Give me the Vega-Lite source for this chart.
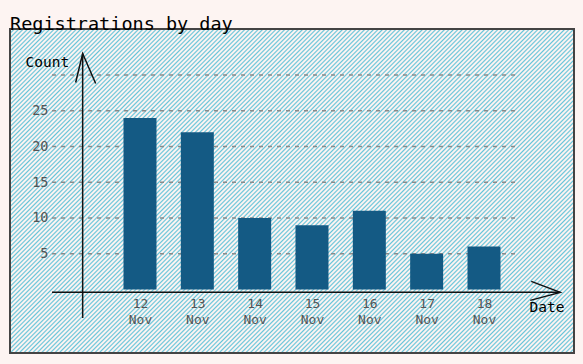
{
  "$schema": "https://vega.github.io/schema/vega-lite/v6.json",
  "width": 564,
  "height": 324,
  "autosize": {"type": "none"},
  "padding": {"left": 10, "top": 29, "right": 9, "bottom": 11},
  "background": "#fdf4f2",
  "title": {"text": "Registrations by day", "anchor": "start", "frame": "group", "font": "DejaVu Sans Mono", "fontSize": 18.5, "fontWeight": "normal", "color": "#000000", "baseline": "alphabetic", "offset": 0, "dy": 19},
  "resolve": {"axis": {"x": "independent", "y": "independent"}},
  "config": {
    "font": "DejaVu Sans Mono",
    "view": {
      "stroke": "#444444",
      "strokeWidth": 2,
      "fill": {
        "gradient": "linear", "x1": 0, "y1": 0, "x2": 1.184, "y2": 0.68,
        "stops": [
{"offset":0,"color":"#66c4d9"},{"offset":0.0018,"color":"#fdf4f2"},{"offset":0.0032,"color":"#fdf4f2"},{"offset":0.005,"color":"#66c4d9"},{"offset":0.0068,"color":"#fdf4f2"},{"offset":0.0082,"color":"#fdf4f2"},
{"offset":0.01,"color":"#66c4d9"},{"offset":0.0118,"color":"#fdf4f2"},{"offset":0.0132,"color":"#fdf4f2"},{"offset":0.015,"color":"#66c4d9"},{"offset":0.0168,"color":"#fdf4f2"},{"offset":0.0182,"color":"#fdf4f2"},
{"offset":0.02,"color":"#66c4d9"},{"offset":0.0218,"color":"#fdf4f2"},{"offset":0.0232,"color":"#fdf4f2"},{"offset":0.025,"color":"#66c4d9"},{"offset":0.0268,"color":"#fdf4f2"},{"offset":0.0282,"color":"#fdf4f2"},
{"offset":0.03,"color":"#66c4d9"},{"offset":0.0318,"color":"#fdf4f2"},{"offset":0.0332,"color":"#fdf4f2"},{"offset":0.035,"color":"#66c4d9"},{"offset":0.0368,"color":"#fdf4f2"},{"offset":0.0382,"color":"#fdf4f2"},
{"offset":0.04,"color":"#66c4d9"},{"offset":0.0418,"color":"#fdf4f2"},{"offset":0.0432,"color":"#fdf4f2"},{"offset":0.045,"color":"#66c4d9"},{"offset":0.0468,"color":"#fdf4f2"},{"offset":0.0482,"color":"#fdf4f2"},
{"offset":0.05,"color":"#66c4d9"},{"offset":0.0518,"color":"#fdf4f2"},{"offset":0.0532,"color":"#fdf4f2"},{"offset":0.055,"color":"#66c4d9"},{"offset":0.0568,"color":"#fdf4f2"},{"offset":0.0582,"color":"#fdf4f2"},
{"offset":0.06,"color":"#66c4d9"},{"offset":0.0618,"color":"#fdf4f2"},{"offset":0.0632,"color":"#fdf4f2"},{"offset":0.065,"color":"#66c4d9"},{"offset":0.0668,"color":"#fdf4f2"},{"offset":0.0682,"color":"#fdf4f2"},
{"offset":0.07,"color":"#66c4d9"},{"offset":0.0718,"color":"#fdf4f2"},{"offset":0.0732,"color":"#fdf4f2"},{"offset":0.075,"color":"#66c4d9"},{"offset":0.0768,"color":"#fdf4f2"},{"offset":0.0782,"color":"#fdf4f2"},
{"offset":0.08,"color":"#66c4d9"},{"offset":0.0818,"color":"#fdf4f2"},{"offset":0.0832,"color":"#fdf4f2"},{"offset":0.085,"color":"#66c4d9"},{"offset":0.0868,"color":"#fdf4f2"},{"offset":0.0882,"color":"#fdf4f2"},
{"offset":0.09,"color":"#66c4d9"},{"offset":0.0918,"color":"#fdf4f2"},{"offset":0.0932,"color":"#fdf4f2"},{"offset":0.095,"color":"#66c4d9"},{"offset":0.0968,"color":"#fdf4f2"},{"offset":0.0982,"color":"#fdf4f2"},
{"offset":0.10,"color":"#66c4d9"},{"offset":0.1018,"color":"#fdf4f2"},{"offset":0.1032,"color":"#fdf4f2"},{"offset":0.105,"color":"#66c4d9"},{"offset":0.1068,"color":"#fdf4f2"},{"offset":0.1082,"color":"#fdf4f2"},
{"offset":0.11,"color":"#66c4d9"},{"offset":0.1118,"color":"#fdf4f2"},{"offset":0.1132,"color":"#fdf4f2"},{"offset":0.115,"color":"#66c4d9"},{"offset":0.1168,"color":"#fdf4f2"},{"offset":0.1182,"color":"#fdf4f2"},
{"offset":0.12,"color":"#66c4d9"},{"offset":0.1218,"color":"#fdf4f2"},{"offset":0.1232,"color":"#fdf4f2"},{"offset":0.125,"color":"#66c4d9"},{"offset":0.1268,"color":"#fdf4f2"},{"offset":0.1282,"color":"#fdf4f2"},
{"offset":0.13,"color":"#66c4d9"},{"offset":0.1318,"color":"#fdf4f2"},{"offset":0.1332,"color":"#fdf4f2"},{"offset":0.135,"color":"#66c4d9"},{"offset":0.1368,"color":"#fdf4f2"},{"offset":0.1382,"color":"#fdf4f2"},
{"offset":0.14,"color":"#66c4d9"},{"offset":0.1418,"color":"#fdf4f2"},{"offset":0.1432,"color":"#fdf4f2"},{"offset":0.145,"color":"#66c4d9"},{"offset":0.1468,"color":"#fdf4f2"},{"offset":0.1482,"color":"#fdf4f2"},
{"offset":0.15,"color":"#66c4d9"},{"offset":0.1518,"color":"#fdf4f2"},{"offset":0.1532,"color":"#fdf4f2"},{"offset":0.155,"color":"#66c4d9"},{"offset":0.1568,"color":"#fdf4f2"},{"offset":0.1582,"color":"#fdf4f2"},
{"offset":0.16,"color":"#66c4d9"},{"offset":0.1618,"color":"#fdf4f2"},{"offset":0.1632,"color":"#fdf4f2"},{"offset":0.165,"color":"#66c4d9"},{"offset":0.1668,"color":"#fdf4f2"},{"offset":0.1682,"color":"#fdf4f2"},
{"offset":0.17,"color":"#66c4d9"},{"offset":0.1718,"color":"#fdf4f2"},{"offset":0.1732,"color":"#fdf4f2"},{"offset":0.175,"color":"#66c4d9"},{"offset":0.1768,"color":"#fdf4f2"},{"offset":0.1782,"color":"#fdf4f2"},
{"offset":0.18,"color":"#66c4d9"},{"offset":0.1818,"color":"#fdf4f2"},{"offset":0.1832,"color":"#fdf4f2"},{"offset":0.185,"color":"#66c4d9"},{"offset":0.1868,"color":"#fdf4f2"},{"offset":0.1882,"color":"#fdf4f2"},
{"offset":0.19,"color":"#66c4d9"},{"offset":0.1918,"color":"#fdf4f2"},{"offset":0.1932,"color":"#fdf4f2"},{"offset":0.195,"color":"#66c4d9"},{"offset":0.1968,"color":"#fdf4f2"},{"offset":0.1982,"color":"#fdf4f2"},
{"offset":0.20,"color":"#66c4d9"},{"offset":0.2018,"color":"#fdf4f2"},{"offset":0.2032,"color":"#fdf4f2"},{"offset":0.205,"color":"#66c4d9"},{"offset":0.2068,"color":"#fdf4f2"},{"offset":0.2082,"color":"#fdf4f2"},
{"offset":0.21,"color":"#66c4d9"},{"offset":0.2118,"color":"#fdf4f2"},{"offset":0.2132,"color":"#fdf4f2"},{"offset":0.215,"color":"#66c4d9"},{"offset":0.2168,"color":"#fdf4f2"},{"offset":0.2182,"color":"#fdf4f2"},
{"offset":0.22,"color":"#66c4d9"},{"offset":0.2218,"color":"#fdf4f2"},{"offset":0.2232,"color":"#fdf4f2"},{"offset":0.225,"color":"#66c4d9"},{"offset":0.2268,"color":"#fdf4f2"},{"offset":0.2282,"color":"#fdf4f2"},
{"offset":0.23,"color":"#66c4d9"},{"offset":0.2318,"color":"#fdf4f2"},{"offset":0.2332,"color":"#fdf4f2"},{"offset":0.235,"color":"#66c4d9"},{"offset":0.2368,"color":"#fdf4f2"},{"offset":0.2382,"color":"#fdf4f2"},
{"offset":0.24,"color":"#66c4d9"},{"offset":0.2418,"color":"#fdf4f2"},{"offset":0.2432,"color":"#fdf4f2"},{"offset":0.245,"color":"#66c4d9"},{"offset":0.2468,"color":"#fdf4f2"},{"offset":0.2482,"color":"#fdf4f2"},
{"offset":0.25,"color":"#66c4d9"},{"offset":0.2518,"color":"#fdf4f2"},{"offset":0.2532,"color":"#fdf4f2"},{"offset":0.255,"color":"#66c4d9"},{"offset":0.2568,"color":"#fdf4f2"},{"offset":0.2582,"color":"#fdf4f2"},
{"offset":0.26,"color":"#66c4d9"},{"offset":0.2618,"color":"#fdf4f2"},{"offset":0.2632,"color":"#fdf4f2"},{"offset":0.265,"color":"#66c4d9"},{"offset":0.2668,"color":"#fdf4f2"},{"offset":0.2682,"color":"#fdf4f2"},
{"offset":0.27,"color":"#66c4d9"},{"offset":0.2718,"color":"#fdf4f2"},{"offset":0.2732,"color":"#fdf4f2"},{"offset":0.275,"color":"#66c4d9"},{"offset":0.2768,"color":"#fdf4f2"},{"offset":0.2782,"color":"#fdf4f2"},
{"offset":0.28,"color":"#66c4d9"},{"offset":0.2818,"color":"#fdf4f2"},{"offset":0.2832,"color":"#fdf4f2"},{"offset":0.285,"color":"#66c4d9"},{"offset":0.2868,"color":"#fdf4f2"},{"offset":0.2882,"color":"#fdf4f2"},
{"offset":0.29,"color":"#66c4d9"},{"offset":0.2918,"color":"#fdf4f2"},{"offset":0.2932,"color":"#fdf4f2"},{"offset":0.295,"color":"#66c4d9"},{"offset":0.2968,"color":"#fdf4f2"},{"offset":0.2982,"color":"#fdf4f2"},
{"offset":0.30,"color":"#66c4d9"},{"offset":0.3018,"color":"#fdf4f2"},{"offset":0.3032,"color":"#fdf4f2"},{"offset":0.305,"color":"#66c4d9"},{"offset":0.3068,"color":"#fdf4f2"},{"offset":0.3082,"color":"#fdf4f2"},
{"offset":0.31,"color":"#66c4d9"},{"offset":0.3118,"color":"#fdf4f2"},{"offset":0.3132,"color":"#fdf4f2"},{"offset":0.315,"color":"#66c4d9"},{"offset":0.3168,"color":"#fdf4f2"},{"offset":0.3182,"color":"#fdf4f2"},
{"offset":0.32,"color":"#66c4d9"},{"offset":0.3218,"color":"#fdf4f2"},{"offset":0.3232,"color":"#fdf4f2"},{"offset":0.325,"color":"#66c4d9"},{"offset":0.3268,"color":"#fdf4f2"},{"offset":0.3282,"color":"#fdf4f2"},
{"offset":0.33,"color":"#66c4d9"},{"offset":0.3318,"color":"#fdf4f2"},{"offset":0.3332,"color":"#fdf4f2"},{"offset":0.335,"color":"#66c4d9"},{"offset":0.3368,"color":"#fdf4f2"},{"offset":0.3382,"color":"#fdf4f2"},
{"offset":0.34,"color":"#66c4d9"},{"offset":0.3418,"color":"#fdf4f2"},{"offset":0.3432,"color":"#fdf4f2"},{"offset":0.345,"color":"#66c4d9"},{"offset":0.3468,"color":"#fdf4f2"},{"offset":0.3482,"color":"#fdf4f2"},
{"offset":0.35,"color":"#66c4d9"},{"offset":0.3518,"color":"#fdf4f2"},{"offset":0.3532,"color":"#fdf4f2"},{"offset":0.355,"color":"#66c4d9"},{"offset":0.3568,"color":"#fdf4f2"},{"offset":0.3582,"color":"#fdf4f2"},
{"offset":0.36,"color":"#66c4d9"},{"offset":0.3618,"color":"#fdf4f2"},{"offset":0.3632,"color":"#fdf4f2"},{"offset":0.365,"color":"#66c4d9"},{"offset":0.3668,"color":"#fdf4f2"},{"offset":0.3682,"color":"#fdf4f2"},
{"offset":0.37,"color":"#66c4d9"},{"offset":0.3718,"color":"#fdf4f2"},{"offset":0.3732,"color":"#fdf4f2"},{"offset":0.375,"color":"#66c4d9"},{"offset":0.3768,"color":"#fdf4f2"},{"offset":0.3782,"color":"#fdf4f2"},
{"offset":0.38,"color":"#66c4d9"},{"offset":0.3818,"color":"#fdf4f2"},{"offset":0.3832,"color":"#fdf4f2"},{"offset":0.385,"color":"#66c4d9"},{"offset":0.3868,"color":"#fdf4f2"},{"offset":0.3882,"color":"#fdf4f2"},
{"offset":0.39,"color":"#66c4d9"},{"offset":0.3918,"color":"#fdf4f2"},{"offset":0.3932,"color":"#fdf4f2"},{"offset":0.395,"color":"#66c4d9"},{"offset":0.3968,"color":"#fdf4f2"},{"offset":0.3982,"color":"#fdf4f2"},
{"offset":0.40,"color":"#66c4d9"},{"offset":0.4018,"color":"#fdf4f2"},{"offset":0.4032,"color":"#fdf4f2"},{"offset":0.405,"color":"#66c4d9"},{"offset":0.4068,"color":"#fdf4f2"},{"offset":0.4082,"color":"#fdf4f2"},
{"offset":0.41,"color":"#66c4d9"},{"offset":0.4118,"color":"#fdf4f2"},{"offset":0.4132,"color":"#fdf4f2"},{"offset":0.415,"color":"#66c4d9"},{"offset":0.4168,"color":"#fdf4f2"},{"offset":0.4182,"color":"#fdf4f2"},
{"offset":0.42,"color":"#66c4d9"},{"offset":0.4218,"color":"#fdf4f2"},{"offset":0.4232,"color":"#fdf4f2"},{"offset":0.425,"color":"#66c4d9"},{"offset":0.4268,"color":"#fdf4f2"},{"offset":0.4282,"color":"#fdf4f2"},
{"offset":0.43,"color":"#66c4d9"},{"offset":0.4318,"color":"#fdf4f2"},{"offset":0.4332,"color":"#fdf4f2"},{"offset":0.435,"color":"#66c4d9"},{"offset":0.4368,"color":"#fdf4f2"},{"offset":0.4382,"color":"#fdf4f2"},
{"offset":0.44,"color":"#66c4d9"},{"offset":0.4418,"color":"#fdf4f2"},{"offset":0.4432,"color":"#fdf4f2"},{"offset":0.445,"color":"#66c4d9"},{"offset":0.4468,"color":"#fdf4f2"},{"offset":0.4482,"color":"#fdf4f2"},
{"offset":0.45,"color":"#66c4d9"},{"offset":0.4518,"color":"#fdf4f2"},{"offset":0.4532,"color":"#fdf4f2"},{"offset":0.455,"color":"#66c4d9"},{"offset":0.4568,"color":"#fdf4f2"},{"offset":0.4582,"color":"#fdf4f2"},
{"offset":0.46,"color":"#66c4d9"},{"offset":0.4618,"color":"#fdf4f2"},{"offset":0.4632,"color":"#fdf4f2"},{"offset":0.465,"color":"#66c4d9"},{"offset":0.4668,"color":"#fdf4f2"},{"offset":0.4682,"color":"#fdf4f2"},
{"offset":0.47,"color":"#66c4d9"},{"offset":0.4718,"color":"#fdf4f2"},{"offset":0.4732,"color":"#fdf4f2"},{"offset":0.475,"color":"#66c4d9"},{"offset":0.4768,"color":"#fdf4f2"},{"offset":0.4782,"color":"#fdf4f2"},
{"offset":0.48,"color":"#66c4d9"},{"offset":0.4818,"color":"#fdf4f2"},{"offset":0.4832,"color":"#fdf4f2"},{"offset":0.485,"color":"#66c4d9"},{"offset":0.4868,"color":"#fdf4f2"},{"offset":0.4882,"color":"#fdf4f2"},
{"offset":0.49,"color":"#66c4d9"},{"offset":0.4918,"color":"#fdf4f2"},{"offset":0.4932,"color":"#fdf4f2"},{"offset":0.495,"color":"#66c4d9"},{"offset":0.4968,"color":"#fdf4f2"},{"offset":0.4982,"color":"#fdf4f2"},
{"offset":0.50,"color":"#66c4d9"},{"offset":0.5018,"color":"#fdf4f2"},{"offset":0.5032,"color":"#fdf4f2"},{"offset":0.505,"color":"#66c4d9"},{"offset":0.5068,"color":"#fdf4f2"},{"offset":0.5082,"color":"#fdf4f2"},
{"offset":0.51,"color":"#66c4d9"},{"offset":0.5118,"color":"#fdf4f2"},{"offset":0.5132,"color":"#fdf4f2"},{"offset":0.515,"color":"#66c4d9"},{"offset":0.5168,"color":"#fdf4f2"},{"offset":0.5182,"color":"#fdf4f2"},
{"offset":0.52,"color":"#66c4d9"},{"offset":0.5218,"color":"#fdf4f2"},{"offset":0.5232,"color":"#fdf4f2"},{"offset":0.525,"color":"#66c4d9"},{"offset":0.5268,"color":"#fdf4f2"},{"offset":0.5282,"color":"#fdf4f2"},
{"offset":0.53,"color":"#66c4d9"},{"offset":0.5318,"color":"#fdf4f2"},{"offset":0.5332,"color":"#fdf4f2"},{"offset":0.535,"color":"#66c4d9"},{"offset":0.5368,"color":"#fdf4f2"},{"offset":0.5382,"color":"#fdf4f2"},
{"offset":0.54,"color":"#66c4d9"},{"offset":0.5418,"color":"#fdf4f2"},{"offset":0.5432,"color":"#fdf4f2"},{"offset":0.545,"color":"#66c4d9"},{"offset":0.5468,"color":"#fdf4f2"},{"offset":0.5482,"color":"#fdf4f2"},
{"offset":0.55,"color":"#66c4d9"},{"offset":0.5518,"color":"#fdf4f2"},{"offset":0.5532,"color":"#fdf4f2"},{"offset":0.555,"color":"#66c4d9"},{"offset":0.5568,"color":"#fdf4f2"},{"offset":0.5582,"color":"#fdf4f2"},
{"offset":0.56,"color":"#66c4d9"},{"offset":0.5618,"color":"#fdf4f2"},{"offset":0.5632,"color":"#fdf4f2"},{"offset":0.565,"color":"#66c4d9"},{"offset":0.5668,"color":"#fdf4f2"},{"offset":0.5682,"color":"#fdf4f2"},
{"offset":0.57,"color":"#66c4d9"},{"offset":0.5718,"color":"#fdf4f2"},{"offset":0.5732,"color":"#fdf4f2"},{"offset":0.575,"color":"#66c4d9"},{"offset":0.5768,"color":"#fdf4f2"},{"offset":0.5782,"color":"#fdf4f2"},
{"offset":0.58,"color":"#66c4d9"},{"offset":0.5818,"color":"#fdf4f2"},{"offset":0.5832,"color":"#fdf4f2"},{"offset":0.585,"color":"#66c4d9"},{"offset":0.5868,"color":"#fdf4f2"},{"offset":0.5882,"color":"#fdf4f2"},
{"offset":0.59,"color":"#66c4d9"},{"offset":0.5918,"color":"#fdf4f2"},{"offset":0.5932,"color":"#fdf4f2"},{"offset":0.595,"color":"#66c4d9"},{"offset":0.5968,"color":"#fdf4f2"},{"offset":0.5982,"color":"#fdf4f2"},
{"offset":0.60,"color":"#66c4d9"},{"offset":0.6018,"color":"#fdf4f2"},{"offset":0.6032,"color":"#fdf4f2"},{"offset":0.605,"color":"#66c4d9"},{"offset":0.6068,"color":"#fdf4f2"},{"offset":0.6082,"color":"#fdf4f2"},
{"offset":0.61,"color":"#66c4d9"},{"offset":0.6118,"color":"#fdf4f2"},{"offset":0.6132,"color":"#fdf4f2"},{"offset":0.615,"color":"#66c4d9"},{"offset":0.6168,"color":"#fdf4f2"},{"offset":0.6182,"color":"#fdf4f2"},
{"offset":0.62,"color":"#66c4d9"},{"offset":0.6218,"color":"#fdf4f2"},{"offset":0.6232,"color":"#fdf4f2"},{"offset":0.625,"color":"#66c4d9"},{"offset":0.6268,"color":"#fdf4f2"},{"offset":0.6282,"color":"#fdf4f2"},
{"offset":0.63,"color":"#66c4d9"},{"offset":0.6318,"color":"#fdf4f2"},{"offset":0.6332,"color":"#fdf4f2"},{"offset":0.635,"color":"#66c4d9"},{"offset":0.6368,"color":"#fdf4f2"},{"offset":0.6382,"color":"#fdf4f2"},
{"offset":0.64,"color":"#66c4d9"},{"offset":0.6418,"color":"#fdf4f2"},{"offset":0.6432,"color":"#fdf4f2"},{"offset":0.645,"color":"#66c4d9"},{"offset":0.6468,"color":"#fdf4f2"},{"offset":0.6482,"color":"#fdf4f2"},
{"offset":0.65,"color":"#66c4d9"},{"offset":0.6518,"color":"#fdf4f2"},{"offset":0.6532,"color":"#fdf4f2"},{"offset":0.655,"color":"#66c4d9"},{"offset":0.6568,"color":"#fdf4f2"},{"offset":0.6582,"color":"#fdf4f2"},
{"offset":0.66,"color":"#66c4d9"},{"offset":0.6618,"color":"#fdf4f2"},{"offset":0.6632,"color":"#fdf4f2"},{"offset":0.665,"color":"#66c4d9"},{"offset":0.6668,"color":"#fdf4f2"},{"offset":0.6682,"color":"#fdf4f2"},
{"offset":0.67,"color":"#66c4d9"},{"offset":0.6718,"color":"#fdf4f2"},{"offset":0.6732,"color":"#fdf4f2"},{"offset":0.675,"color":"#66c4d9"},{"offset":0.6768,"color":"#fdf4f2"},{"offset":0.6782,"color":"#fdf4f2"},
{"offset":0.68,"color":"#66c4d9"},{"offset":0.6818,"color":"#fdf4f2"},{"offset":0.6832,"color":"#fdf4f2"},{"offset":0.685,"color":"#66c4d9"},{"offset":0.6868,"color":"#fdf4f2"},{"offset":0.6882,"color":"#fdf4f2"},
{"offset":0.69,"color":"#66c4d9"},{"offset":0.6918,"color":"#fdf4f2"},{"offset":0.6932,"color":"#fdf4f2"},{"offset":0.695,"color":"#66c4d9"},{"offset":0.6968,"color":"#fdf4f2"},{"offset":0.6982,"color":"#fdf4f2"},
{"offset":0.70,"color":"#66c4d9"},{"offset":0.7018,"color":"#fdf4f2"},{"offset":0.7032,"color":"#fdf4f2"},{"offset":0.705,"color":"#66c4d9"},{"offset":0.7068,"color":"#fdf4f2"},{"offset":0.7082,"color":"#fdf4f2"},
{"offset":0.71,"color":"#66c4d9"},{"offset":0.7118,"color":"#fdf4f2"},{"offset":0.7132,"color":"#fdf4f2"},{"offset":0.715,"color":"#66c4d9"},{"offset":0.7168,"color":"#fdf4f2"},{"offset":0.7182,"color":"#fdf4f2"},
{"offset":0.72,"color":"#66c4d9"},{"offset":0.7218,"color":"#fdf4f2"},{"offset":0.7232,"color":"#fdf4f2"},{"offset":0.725,"color":"#66c4d9"},{"offset":0.7268,"color":"#fdf4f2"},{"offset":0.7282,"color":"#fdf4f2"},
{"offset":0.73,"color":"#66c4d9"},{"offset":0.7318,"color":"#fdf4f2"},{"offset":0.7332,"color":"#fdf4f2"},{"offset":0.735,"color":"#66c4d9"},{"offset":0.7368,"color":"#fdf4f2"},{"offset":0.7382,"color":"#fdf4f2"},
{"offset":0.74,"color":"#66c4d9"},{"offset":0.7418,"color":"#fdf4f2"},{"offset":0.7432,"color":"#fdf4f2"},{"offset":0.745,"color":"#66c4d9"},{"offset":0.7468,"color":"#fdf4f2"},{"offset":0.7482,"color":"#fdf4f2"},
{"offset":0.75,"color":"#66c4d9"},{"offset":0.7518,"color":"#fdf4f2"},{"offset":0.7532,"color":"#fdf4f2"},{"offset":0.755,"color":"#66c4d9"},{"offset":0.7568,"color":"#fdf4f2"},{"offset":0.7582,"color":"#fdf4f2"},
{"offset":0.76,"color":"#66c4d9"},{"offset":0.7618,"color":"#fdf4f2"},{"offset":0.7632,"color":"#fdf4f2"},{"offset":0.765,"color":"#66c4d9"},{"offset":0.7668,"color":"#fdf4f2"},{"offset":0.7682,"color":"#fdf4f2"},
{"offset":0.77,"color":"#66c4d9"},{"offset":0.7718,"color":"#fdf4f2"},{"offset":0.7732,"color":"#fdf4f2"},{"offset":0.775,"color":"#66c4d9"},{"offset":0.7768,"color":"#fdf4f2"},{"offset":0.7782,"color":"#fdf4f2"},
{"offset":0.78,"color":"#66c4d9"},{"offset":0.7818,"color":"#fdf4f2"},{"offset":0.7832,"color":"#fdf4f2"},{"offset":0.785,"color":"#66c4d9"},{"offset":0.7868,"color":"#fdf4f2"},{"offset":0.7882,"color":"#fdf4f2"},
{"offset":0.79,"color":"#66c4d9"},{"offset":0.7918,"color":"#fdf4f2"},{"offset":0.7932,"color":"#fdf4f2"},{"offset":0.795,"color":"#66c4d9"},{"offset":0.7968,"color":"#fdf4f2"},{"offset":0.7982,"color":"#fdf4f2"},
{"offset":0.80,"color":"#66c4d9"},{"offset":0.8018,"color":"#fdf4f2"},{"offset":0.8032,"color":"#fdf4f2"},{"offset":0.805,"color":"#66c4d9"},{"offset":0.8068,"color":"#fdf4f2"},{"offset":0.8082,"color":"#fdf4f2"},
{"offset":0.81,"color":"#66c4d9"},{"offset":0.8118,"color":"#fdf4f2"},{"offset":0.8132,"color":"#fdf4f2"},{"offset":0.815,"color":"#66c4d9"},{"offset":0.8168,"color":"#fdf4f2"},{"offset":0.8182,"color":"#fdf4f2"},
{"offset":0.82,"color":"#66c4d9"},{"offset":0.8218,"color":"#fdf4f2"},{"offset":0.8232,"color":"#fdf4f2"},{"offset":0.825,"color":"#66c4d9"},{"offset":0.8268,"color":"#fdf4f2"},{"offset":0.8282,"color":"#fdf4f2"},
{"offset":0.83,"color":"#66c4d9"},{"offset":0.8318,"color":"#fdf4f2"},{"offset":0.8332,"color":"#fdf4f2"},{"offset":0.835,"color":"#66c4d9"},{"offset":0.8368,"color":"#fdf4f2"},{"offset":0.8382,"color":"#fdf4f2"},
{"offset":0.84,"color":"#66c4d9"},{"offset":0.8418,"color":"#fdf4f2"},{"offset":0.8432,"color":"#fdf4f2"},{"offset":0.845,"color":"#66c4d9"},{"offset":0.8468,"color":"#fdf4f2"},{"offset":0.8482,"color":"#fdf4f2"},
{"offset":0.85,"color":"#66c4d9"},{"offset":0.8518,"color":"#fdf4f2"},{"offset":0.8532,"color":"#fdf4f2"},{"offset":0.855,"color":"#66c4d9"},{"offset":0.8568,"color":"#fdf4f2"},{"offset":0.8582,"color":"#fdf4f2"},
{"offset":0.86,"color":"#66c4d9"},{"offset":0.8618,"color":"#fdf4f2"},{"offset":0.8632,"color":"#fdf4f2"},{"offset":0.865,"color":"#66c4d9"},{"offset":0.8668,"color":"#fdf4f2"},{"offset":0.8682,"color":"#fdf4f2"},
{"offset":0.87,"color":"#66c4d9"},{"offset":0.8718,"color":"#fdf4f2"},{"offset":0.8732,"color":"#fdf4f2"},{"offset":0.875,"color":"#66c4d9"},{"offset":0.8768,"color":"#fdf4f2"},{"offset":0.8782,"color":"#fdf4f2"},
{"offset":0.88,"color":"#66c4d9"},{"offset":0.8818,"color":"#fdf4f2"},{"offset":0.8832,"color":"#fdf4f2"},{"offset":0.885,"color":"#66c4d9"},{"offset":0.8868,"color":"#fdf4f2"},{"offset":0.8882,"color":"#fdf4f2"},
{"offset":0.89,"color":"#66c4d9"},{"offset":0.8918,"color":"#fdf4f2"},{"offset":0.8932,"color":"#fdf4f2"},{"offset":0.895,"color":"#66c4d9"},{"offset":0.8968,"color":"#fdf4f2"},{"offset":0.8982,"color":"#fdf4f2"},
{"offset":0.90,"color":"#66c4d9"},{"offset":0.9018,"color":"#fdf4f2"},{"offset":0.9032,"color":"#fdf4f2"},{"offset":0.905,"color":"#66c4d9"},{"offset":0.9068,"color":"#fdf4f2"},{"offset":0.9082,"color":"#fdf4f2"},
{"offset":0.91,"color":"#66c4d9"},{"offset":0.9118,"color":"#fdf4f2"},{"offset":0.9132,"color":"#fdf4f2"},{"offset":0.915,"color":"#66c4d9"},{"offset":0.9168,"color":"#fdf4f2"},{"offset":0.9182,"color":"#fdf4f2"},
{"offset":0.92,"color":"#66c4d9"},{"offset":0.9218,"color":"#fdf4f2"},{"offset":0.9232,"color":"#fdf4f2"},{"offset":0.925,"color":"#66c4d9"},{"offset":0.9268,"color":"#fdf4f2"},{"offset":0.9282,"color":"#fdf4f2"},
{"offset":0.93,"color":"#66c4d9"},{"offset":0.9318,"color":"#fdf4f2"},{"offset":0.9332,"color":"#fdf4f2"},{"offset":0.935,"color":"#66c4d9"},{"offset":0.9368,"color":"#fdf4f2"},{"offset":0.9382,"color":"#fdf4f2"},
{"offset":0.94,"color":"#66c4d9"},{"offset":0.9418,"color":"#fdf4f2"},{"offset":0.9432,"color":"#fdf4f2"},{"offset":0.945,"color":"#66c4d9"},{"offset":0.9468,"color":"#fdf4f2"},{"offset":0.9482,"color":"#fdf4f2"},
{"offset":0.95,"color":"#66c4d9"},{"offset":0.9518,"color":"#fdf4f2"},{"offset":0.9532,"color":"#fdf4f2"},{"offset":0.955,"color":"#66c4d9"},{"offset":0.9568,"color":"#fdf4f2"},{"offset":0.9582,"color":"#fdf4f2"},
{"offset":0.96,"color":"#66c4d9"},{"offset":0.9618,"color":"#fdf4f2"},{"offset":0.9632,"color":"#fdf4f2"},{"offset":0.965,"color":"#66c4d9"},{"offset":0.9668,"color":"#fdf4f2"},{"offset":0.9682,"color":"#fdf4f2"},
{"offset":0.97,"color":"#66c4d9"},{"offset":0.9718,"color":"#fdf4f2"},{"offset":0.9732,"color":"#fdf4f2"},{"offset":0.975,"color":"#66c4d9"},{"offset":0.9768,"color":"#fdf4f2"},{"offset":0.9782,"color":"#fdf4f2"},
{"offset":0.98,"color":"#66c4d9"},{"offset":0.9818,"color":"#fdf4f2"},{"offset":0.9832,"color":"#fdf4f2"},{"offset":0.985,"color":"#66c4d9"},{"offset":0.9868,"color":"#fdf4f2"},{"offset":0.9882,"color":"#fdf4f2"},
{"offset":0.99,"color":"#66c4d9"},{"offset":0.9918,"color":"#fdf4f2"},{"offset":0.9932,"color":"#fdf4f2"},{"offset":0.995,"color":"#66c4d9"},{"offset":0.9968,"color":"#fdf4f2"},{"offset":0.9982,"color":"#fdf4f2"},
{"offset":1,"color":"#66c4d9"}
        ]
      }
    }
  },
  "layer": [
    {
      "data": {"values": [{"value": 5}, {"value": 10}, {"value": 15}, {"value": 20}, {"value": 25}, {"value": 30}]},
      "mark": {"type": "rule", "color": "#8a8a8a", "strokeWidth": 1.4, "strokeDash": [4, 5]},
      "encoding": {
        "x": {"datum": 10.465, "type": "quantitative", "scale": {"domain": [9.7326, 19.57], "nice": false, "zero": false, "padding": 0}, "axis": null},
        "x2": {"datum": 18.56},
        "y": {"field": "value", "type": "quantitative", "scale": {"domain": [-8.88, 36.43], "nice": false, "zero": false, "padding": 0}, "axis": null}
      }
    },
    {
      "data": {"values": [
        {"day": 12, "date": "12 Nov", "count": 24},
        {"day": 13, "date": "13 Nov", "count": 22},
        {"day": 14, "date": "14 Nov", "count": 10},
        {"day": 15, "date": "15 Nov", "count": 9},
        {"day": 16, "date": "16 Nov", "count": 11},
        {"day": 17, "date": "17 Nov", "count": 5},
        {"day": 18, "date": "18 Nov", "count": 6}
      ]},
      "mark": {"type": "bar", "width": 33, "color": "#145a84"},
      "encoding": {
        "x": {"field": "day", "type": "quantitative", "scale": {"domain": [9.7326, 19.57], "nice": false, "zero": false, "padding": 0},
          "axis": {"values": [12, 13, 14, 15, 16, 17, 18], "offset": -61, "domain": false, "ticks": false, "grid": false, "labelPadding": 5,
            "labelExpr": "[datum.label, 'Nov']", "labelLineHeight": 16, "labelFontSize": 13, "labelColor": "#555555", "labelFont": "DejaVu Sans Mono",
            "labelFlush": false, "labelOverlap": false,
            "title": "Date", "titleX": 519, "titleY": 19, "titleAlign": "left", "titleBaseline": "alphabetic", "titleAnchor": null,
            "titleFont": "DejaVu Sans Mono", "titleFontSize": 14.5, "titleFontWeight": "normal", "titleColor": "#000000"}},
        "y": {"field": "count", "type": "quantitative", "scale": {"domain": [-8.88, 36.43], "nice": false, "zero": false, "padding": 0},
          "axis": {"values": [5, 10, 15, 20, 25], "offset": -38, "domain": false, "ticks": false, "grid": false, "labelPadding": 0,
            "labelFontSize": 13.5, "labelColor": "#555555", "labelFont": "DejaVu Sans Mono",
            "title": "Count", "titleAngle": 0, "titleX": -23, "titleY": 37.5, "titleAlign": "left", "titleBaseline": "alphabetic", "titleAnchor": null,
            "titleFont": "DejaVu Sans Mono", "titleFontSize": 14.5, "titleFontWeight": "normal", "titleColor": "#000000"}},
        "y2": {"datum": 0}
      }
    },
    {
      "data": {"values": [{}]},
      "mark": {"type": "rule", "color": "#111111", "strokeWidth": 1.5},
      "encoding": {
        "x": {"datum": 11, "type": "quantitative", "scale": {"domain": [9.7326, 19.57], "nice": false, "zero": false, "padding": 0}, "axis": null},
        "y": {"datum": -4, "type": "quantitative", "scale": {"domain": [-8.88, 36.43], "nice": false, "zero": false, "padding": 0}, "axis": null},
        "y2": {"datum": 33}
      }
    },
    {
      "data": {"values": [{}]},
      "mark": {"type": "rule", "color": "#111111", "strokeWidth": 1.5},
      "encoding": {
        "x": {"datum": 10.465, "type": "quantitative", "scale": {"domain": [9.7326, 19.57], "nice": false, "zero": false, "padding": 0}, "axis": null},
        "x2": {"datum": 19.33},
        "y": {"datum": -0.4, "type": "quantitative", "scale": {"domain": [-8.88, 36.43], "nice": false, "zero": false, "padding": 0}, "axis": null}
      }
    },
    {
      "data": {"values": [{}]},
      "mark": {"type": "point", "shape": "M-7,29L0,0L13,30", "size": 4, "filled": false, "stroke": "#111111", "strokeWidth": 1.5, "opacity": 1},
      "encoding": {
        "x": {"datum": 11, "type": "quantitative", "scale": {"domain": [9.7326, 19.57], "nice": false, "zero": false, "padding": 0}, "axis": null},
        "y": {"datum": 33, "type": "quantitative", "scale": {"domain": [-8.88, 36.43], "nice": false, "zero": false, "padding": 0}, "axis": null}
      }
    },
    {
      "data": {"values": [{}]},
      "mark": {"type": "point", "shape": "M-29,-11L0,0L-30,8", "size": 4, "filled": false, "stroke": "#111111", "strokeWidth": 1.5, "opacity": 1},
      "encoding": {
        "x": {"datum": 19.33, "type": "quantitative", "scale": {"domain": [9.7326, 19.57], "nice": false, "zero": false, "padding": 0}, "axis": null},
        "y": {"datum": -0.4, "type": "quantitative", "scale": {"domain": [-8.88, 36.43], "nice": false, "zero": false, "padding": 0}, "axis": null}
      }
    }
  ]
}
